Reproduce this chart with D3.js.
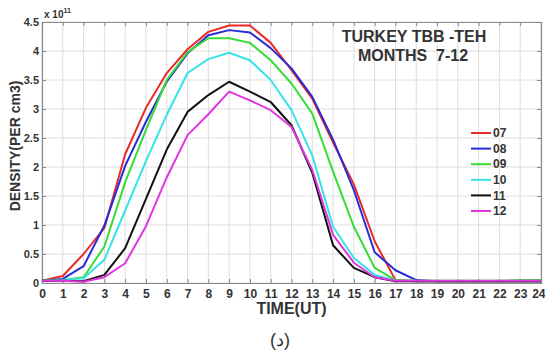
<!DOCTYPE html>
<html>
<head>
<meta charset="utf-8">
<script src="https://cdn.jsdelivr.net/npm/d3@7"></script>
<style>
  body { margin: 0; background: #fff; }
  svg text { font-family: "Liberation Sans", Arial, sans-serif; font-weight: bold; fill: #333; }
</style>
</head>
<body>
<svg class="chart"></svg>
<script>
var width = 545,
    height = 351;

var margin = {top: 22, right: 4, bottom: 68, left: 42},
    w = width - margin.left - margin.right,
    h = height - margin.top - margin.bottom;

// hours 0..24, density in units of 1e11 per cm3
var hours = d3.range(0, 25);
var months = ["07", "08", "09", "10", "11", "12"];
var colors = ["#e82a2a", "#2b2bd6", "#36dc36", "#36e3e6", "#111111", "#e035e0"];

var m07 = [0.04, 0.12, 0.50, 0.95, 2.22, 3.02, 3.62, 4.03, 4.33, 4.44, 4.44, 4.14, 3.67, 3.18, 2.42, 1.70, 0.72, 0.05, 0.03, 0.03, 0.03, 0.03, 0.03, 0.03, 0.03];
var m08 = [0.04, 0.07, 0.29, 0.99, 2.02, 2.78, 3.47, 3.96, 4.27, 4.36, 4.32, 4.05, 3.70, 3.21, 2.47, 1.60, 0.53, 0.22, 0.05, 0.03, 0.03, 0.03, 0.03, 0.03, 0.03];
var m09 = [0.04, 0.05, 0.10, 0.63, 1.74, 2.64, 3.50, 3.98, 4.22, 4.22, 4.14, 3.84, 3.44, 2.92, 1.92, 0.97, 0.26, 0.05, 0.04, 0.04, 0.04, 0.04, 0.04, 0.05, 0.05];
var m10 = [0.04, 0.05, 0.08, 0.40, 1.25, 2.10, 2.90, 3.62, 3.86, 3.97, 3.84, 3.50, 2.98, 2.20, 0.97, 0.43, 0.14, 0.04, 0.03, 0.03, 0.03, 0.03, 0.03, 0.03, 0.03];
var m11 = [0.04, 0.04, 0.03, 0.14, 0.60, 1.45, 2.30, 2.95, 3.24, 3.47, 3.30, 3.12, 2.72, 1.90, 0.65, 0.26, 0.10, 0.03, 0.03, 0.03, 0.03, 0.03, 0.03, 0.03, 0.03];
var m12 = [0.04, 0.04, 0.02, 0.10, 0.34, 0.98, 1.82, 2.55, 2.91, 3.30, 3.15, 2.98, 2.69, 1.95, 0.83, 0.35, 0.10, 0.04, 0.04, 0.04, 0.04, 0.04, 0.04, 0.04, 0.04];
var series = [m07, m08, m09, m10, m11, m12];

var yTicks = [0, 0.5, 1, 1.5, 2, 2.5, 3, 3.5, 4, 4.5];
var yTickLabels = ["0", "0.5", "1", "1.5", "2", "2.5", "3", "3.5", "4", "4.5"];

var x = d3.scaleLinear().domain([0, 24]).range([0, w]),
    y = d3.scaleLinear().domain([0, 4.5]).range([h, 0]);

var svg = d3.select(".chart")
    .attr("width", width)
    .attr("height", height);

var chart = svg.append("g")
    .attr("transform", "translate(" + margin.left + "," + margin.top + ")");

// grid
chart.append("g")
    .selectAll("line.vg")
    .data(hours)
  .enter().append("line")
    .attr("x1", function(d) { return x(d); })
    .attr("x2", function(d) { return x(d); })
    .attr("y1", 0).attr("y2", h)
    .attr("stroke", "#dedede");

chart.append("g")
    .selectAll("line.hg")
    .data(yTicks)
  .enter().append("line")
    .attr("x1", 0).attr("x2", w)
    .attr("y1", function(d) { return y(d); })
    .attr("y2", function(d) { return y(d); })
    .attr("stroke", "#dedede");

// axes
var xAxis = d3.axisBottom(x).tickValues(hours).tickSize(-4).tickPadding(6).tickFormat(d3.format("d")),
    yAxis = d3.axisLeft(y).tickValues(yTicks).tickSize(-4).tickPadding(3)
      .tickFormat(function(d, i) { return yTickLabels[i]; });

var gx = chart.append("g")
    .attr("class", "x axis")
    .attr("transform", "translate(0," + h + ")")
    .call(xAxis);

var gy = chart.append("g")
    .attr("class", "y axis")
    .call(yAxis);

chart.append("g")
    .call(d3.axisTop(x).tickValues(hours).tickSize(-4).tickFormat(""));

chart.append("g")
    .attr("transform", "translate(" + w + ",0)")
    .call(d3.axisRight(y).tickValues(yTicks).tickSize(-4).tickFormat(""));

chart.selectAll(".domain").attr("stroke", "#8a8a8a").attr("stroke-width", 1.2);
chart.selectAll(".tick line").attr("stroke", "#8a8a8a");
chart.selectAll(".tick text")
    .style("font-family", "'Liberation Sans', Arial, sans-serif")
    .style("font-weight", "bold")
    .attr("fill", "#333");
gx.selectAll(".tick text").style("font-size", "12px");
gy.selectAll(".tick text").style("font-size", "11px");

// last hour label sits at the window edge
gx.selectAll(".tick text")
    .filter(function(d) { return d === 24; })
    .attr("text-anchor", "end")
    .attr("x", 4);

// lines
var line = d3.line()
    .x(function(d, i) { return x(hours[i]); })
    .y(function(d) { return y(d); });

chart.selectAll(".series")
    .data(series)
  .enter().append("path")
    .attr("class", "series")
    .attr("fill", "none")
    .attr("stroke", function(d, i) { return colors[i]; })
    .attr("stroke-width", 2)
    .attr("stroke-linejoin", "round")
    .attr("d", line);

// legend
var legend = chart.selectAll(".legend")
    .data(months)
  .enter().append("g")
    .attr("class", "legend")
    .attr("transform", function(d, i) { return "translate(429," + (111 + i * 15.6) + ")"; });

legend.append("line")
    .attr("x1", 0).attr("x2", 20)
    .attr("stroke", function(d, i) { return colors[i]; })
    .attr("stroke-width", 2);

legend.append("text")
    .attr("x", 22)
    .attr("dy", "0.35em")
    .style("font-size", "12px")
    .text(function(d) { return d; });

// title
chart.append("text")
    .attr("x", 372).attr("y", 20)
    .attr("text-anchor", "middle")
    .style("font-size", "16px")
    .text("TURKEY TBB -TEH");

chart.append("text")
    .attr("x", 371).attr("y", 39)
    .attr("text-anchor", "middle")
    .style("font-size", "16px")
    .style("white-space", "pre")
    .text("MONTHS  7-12");

// exponent
var ex = svg.append("text")
    .attr("x", 44).attr("y", 18)
    .style("font-size", "10px")
    .text("x 10");
ex.append("tspan")
    .attr("dy", -5)
    .style("font-size", "7px")
    .text("11");

// axis labels
svg.append("text")
    .attr("transform", "translate(20," + 146 + ") rotate(-90)")
    .attr("text-anchor", "middle")
    .style("font-size", "14px")
    .text("DENSITY(PER cm3)");

svg.append("text")
    .attr("x", margin.left + w / 2).attr("y", 314)
    .attr("text-anchor", "middle")
    .style("font-size", "16px")
    .text("TIME(UT)");

svg.append("text")
    .attr("x", 280).attr("y", 346)
    .attr("text-anchor", "middle")
    .style("font-size", "18px")
    .style("font-weight", "normal")
    .attr("fill", "#222")
    .text("(د)");
</script>
</body>
</html>
